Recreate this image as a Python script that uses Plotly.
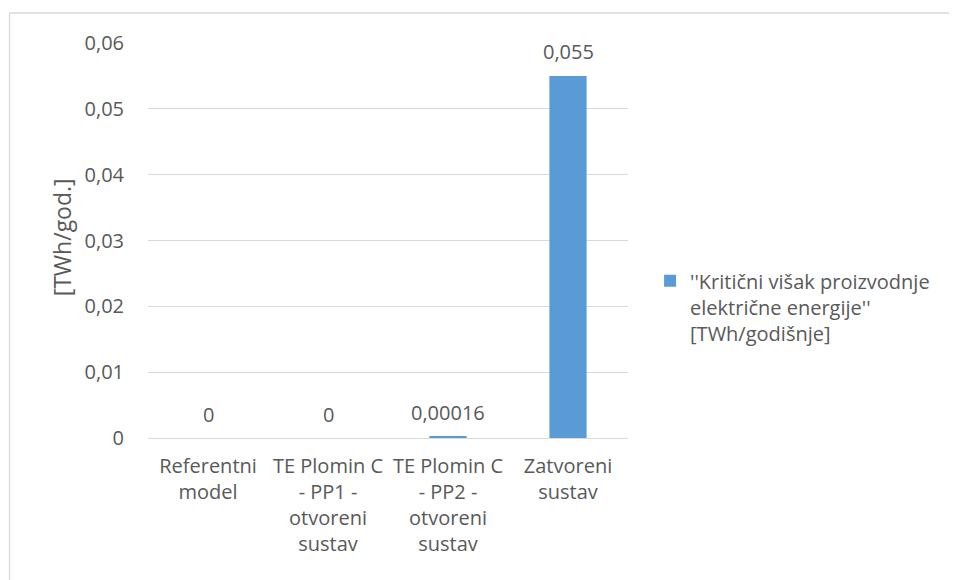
import plotly.graph_objects as go

categories = [
    "Referentni<br>model",
    "TE Plomin C<br>- PP1 -<br>otvoreni<br>sustav",
    "TE Plomin C<br>- PP2 -<br>otvoreni<br>sustav",
    "Zatvoreni<br>sustav",
]
values = [0, 0, 0.00016, 0.055]
series_name = "''Kritični višak proizvodnje<br>električne energije''<br>[TWh/godišnje]"
y_title = "[TWh/god.]"
y_ticks = [0, 0.01, 0.02, 0.03, 0.04, 0.05, 0.06]
y_tick_labels = ["0", "0,01", "0,02", "0,03", "0,04", "0,05", "0,06"]
labels = [f"{v:g}".replace(".", ",") for v in values]

FONT = "Open Sans"
FS = 20
GRAY = "#595959"

fig = go.Figure()
fig.add_trace(go.Bar(
    x=categories, y=values, name=series_name,
    marker=dict(color="#5b9bd5", line=dict(width=0)),
    width=0.31,
    showlegend=True,
))

annotations = [
    dict(x=c, y=v, text=t, showarrow=False, xref="x", yref="y",
         yanchor="middle", yshift=24,
         font=dict(family=FONT, size=FS, color=GRAY))
    for c, v, t in zip(categories, values, labels)
]
annotations.append(dict(
    x=-0.18, y=0.507, xref="paper", yref="paper", text=y_title,
    textangle=-90, showarrow=False, xanchor="center", yanchor="middle",
    font=dict(family=FONT, size=23, color=GRAY),
))

# page body has an 8px margin: shift figure accordingly
W, H = 949, 572
fig.update_layout(
    width=W, height=H,
    margin=dict(l=140, r=329, t=35, b=142, autoexpand=False),
    paper_bgcolor="white", plot_bgcolor="white",
    font=dict(family=FONT, size=FS, color=GRAY),
    bargap=0.69,
    showlegend=True,
    annotations=annotations,
    legend=dict(
        x=1.046, y=0.332, xanchor="left", yanchor="middle",
        font=dict(family=FONT, size=FS, color=GRAY),
        valign="top", itemwidth=30, tracegroupgap=0,
    ),
    yaxis=dict(
        range=[0, 0.06], tickvals=y_ticks, ticktext=y_tick_labels,
        showgrid=True, gridcolor="#d9d9d9", gridwidth=1,
        zeroline=True, zerolinecolor="#d9d9d9", zerolinewidth=1,
        showline=False, ticks="outside", ticklen=19,
        tickcolor="rgba(0,0,0,0)",
        tickfont=dict(family=FONT, size=FS, color=GRAY),
    ),
    xaxis=dict(
        showgrid=False, showline=False, ticks="outside", ticklen=10,
        tickcolor="rgba(0,0,0,0)",
        tickfont=dict(family=FONT, size=FS, color=GRAY),
    ),
    shapes=[dict(
        type="rect", xref="paper", yref="paper",
        x0=-0.2885, x1=1.8, y0=-0.6, y1=1.0759,
        line=dict(color="#d9d9d9", width=1.3), fillcolor="rgba(0,0,0,0)",
        layer="below",
    )],
)

fig.write_html("out.html")
